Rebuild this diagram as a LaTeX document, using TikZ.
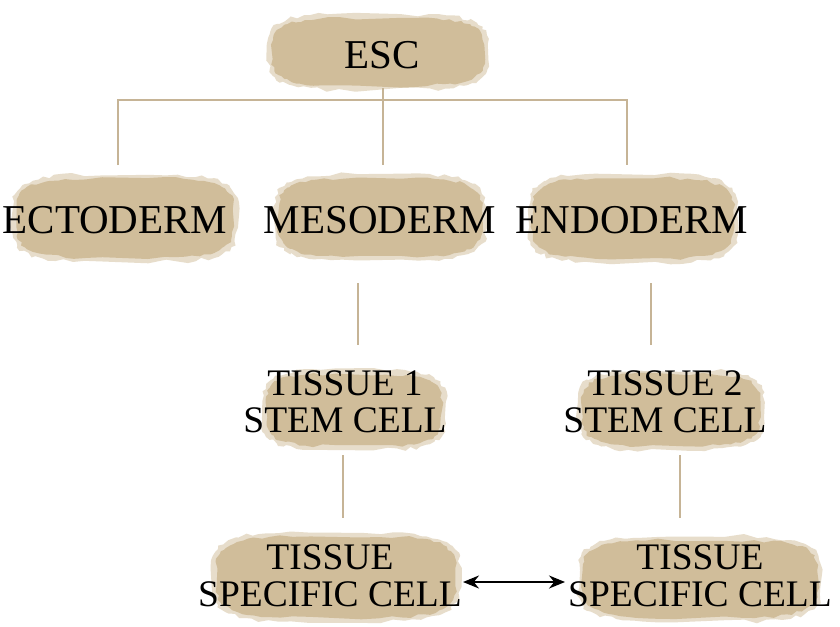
\documentclass[tikz,border=0pt]{standalone}
\usepackage{fontspec}
\setmainfont{Liberation Serif}
\usetikzlibrary{calc,arrows.meta}
\definecolor{parch}{RGB}{208,189,154}
\definecolor{parchlight}{RGB}{226,213,190}
\definecolor{linec}{RGB}{198,180,150}
\tikzset{
  lbl/.style={font=\fontsize{41}{39}\selectfont, align=center, text=black, inner sep=0pt},
  lbltwo/.style={lbl, font=\fontsize{37.5}{37}\selectfont},
  tree/.style={draw=linec, line width=1.8pt},
  paperedge/.style={fill=parchlight, opacity=0.8},
  paperbody/.style={fill=parch},
  link/.style={draw=black, line width=2pt, {Stealth[length=16pt,width=13pt]}-{Stealth[length=16pt,width=13pt]}}
}
% ragged blob: centre #1,#2 ; half sizes #3,#4 ; roughness #5
\newcommand\blobpath[5]{%
  plot[domain=2.5:357.5, samples=72, variable=\t]
    ({#1+(#3+#5*rand)*sign(cos(\t))*sqrt(abs(cos(\t)))},
     {#2+(#4+#5*rand)*sign(sin(\t))*sqrt(abs(sin(\t)))}) -- cycle}
\newcommand\paperblob[4]{%
  \fill[paperedge] \blobpath{(#1+#3)/2}{(#2+#4)/2}{(#3-#1)/2+4}{(#4-#2)/2+4}{2.2};
  \fill[paperbody] \blobpath{(#1+#3)/2}{(#2+#4)/2}{(#3-#1)/2}{(#4-#2)/2}{1.6};
}
\begin{document}
\begin{tikzpicture}[x=1pt,y=-1pt]
\pgfmathsetseed{7}
\useasboundingbox (0,0) rectangle (840,626);
\fill[white] (0,0) rectangle (840,626);
% paper blobs
\paperblob{272}{18}{484}{86}
\paperblob{16}{178}{234}{258}
\paperblob{278}{178}{482}{257}
\paperblob{532}{178}{734}{259}
\paperblob{266}{374}{442}{446}
\paperblob{582}{374}{760}{446}
\paperblob{216}{536}{456}{618}
\paperblob{582}{540}{818}{618}
% labels
\node[lbl] (esc) at (382,55) {ESC};
\node[lbl] (ecto) at (115,220) {ECTODERM};
\node[lbl] (meso) at (380,220) {MESODERM};
\node[lbl] (endo) at (632,220) {ENDODERM};
\node[lbltwo] (ts1) at (345,402) {TISSUE 1\\STEM CELL};
\node[lbltwo] (ts2) at (665,402) {TISSUE 2\\STEM CELL};
\node[lbltwo] (tsl) at (330,576) {TISSUE\\SPECIFIC CELL};
\node[lbltwo] (tsr) at (700,576) {TISSUE\\SPECIFIC CELL};
% tree connectors
\coordinate (escb) at (383,88);
\coordinate (bar) at (383,100);
\coordinate (ectot) at (118,165);
\coordinate (mesot) at (383,165);
\coordinate (endot) at (627,165);
\coordinate (mesob) at (358,283);
\coordinate (ts1t) at (358,345);
\coordinate (endob) at (651,283);
\coordinate (ts2t) at (651,345);
\coordinate (ts1b) at (343,455);
\coordinate (tslt) at (343,518);
\coordinate (ts2b) at (680,455);
\coordinate (tsrt) at (680,518);
\draw[tree] (escb) -- (mesot);
\draw[tree] (ectot) |- (bar) -| (endot);
\draw[tree] (mesob) -- (ts1t);
\draw[tree] (endob) -- (ts2t);
\draw[tree] (ts1b) -- (tslt);
\draw[tree] (ts2b) -- (tsrt);
% double arrow
\draw[link] ($(tsl.east)+(1,6)$) -- ($(tsr.west)+(-3,6)$);
\end{tikzpicture}
\end{document}
